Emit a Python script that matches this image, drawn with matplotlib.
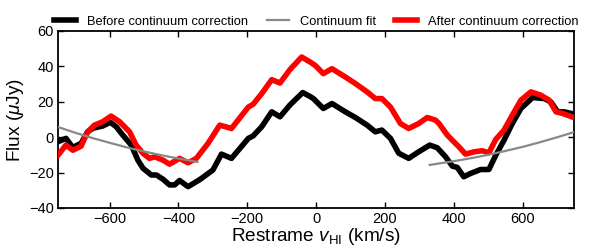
import matplotlib
matplotlib.use('Agg')
import matplotlib.pyplot as plt
import numpy as np

plt.rcParams['font.family'] = ['Liberation Sans', 'DejaVu Sans']
plt.rcParams['mathtext.fontset'] = 'custom'
plt.rcParams['mathtext.rm'] = 'Liberation Sans'
plt.rcParams['mathtext.it'] = 'Liberation Sans:italic'
plt.rcParams['mathtext.bf'] = 'Liberation Sans:bold'

# velocities (km/s) and fluxes (uJy)
v_before = [-750, -727, -707, -683, -664, -649, -620, -598, -581, -562, -537, -518,
            -503, -479, -464, -445, -426, -411, -397, -372, -338, -300, -275, -246,
            -197, -183, -158, -129, -105, -76, -39, -17, -8, 21, 46, 85, 114, 148,
            172, 191, 216, 240, 269, 298, 330, 352, 376, 396, 410, 429, 449, 478,
            502, 522, 546, 570, 595, 629, 663, 682, 702, 721, 750]
f_before = [-2.6, -0.7, -5.8, -3.5, 3.0, 5.0, 6.3, 8.4, 5.9, 1.2, -4.5, -13.0,
            -17.6, -21.4, -21.4, -23.8, -27.0, -27.0, -24.5, -28.0, -24.0, -18.6, -9.6, -12.0,
            -0.7, 0.7, 5.9, 14.3, 11.5, 18.2, 25.2, 22.9, 21.8, 16.2, 19.0, 14.3, 11.1, 6.8,
            3.0, 4.0, -0.7, -9.1, -12.0, -8.3, -4.5, -6.0, -11.1, -16.4, -17.1, -22.4, -20.5, -18.3,
            -18.3, -10.2, -1.7, 7.7, 16.2, 22.4, 21.8, 19.9, 14.3, 14.3, 13.0]

v_after = [-750, -727, -707, -683, -664, -644, -620, -596, -571, -542, -523, -503,
           -484, -469, -445, -426, -397, -372, -348, -314, -280, -246, -197, -183,
           -158, -129, -105, -76, -42, -17, -3, 21, 46, 85, 114, 148, 172, 191,
           216, 245, 269, 298, 323, 347, 357, 381, 400, 415, 434, 459, 483, 502,
           522, 546, 570, 595, 624, 653, 677, 697, 716, 750]
f_after = [-10.2, -4.5, -7.4, -5.1, 3.0, 6.8, 8.7, 11.9, 8.7, 3.0, -4.5, -9.2,
           -12.0, -11.1, -13.0, -15.3, -12.0, -14.5, -12.0, -3.5, 6.8, 4.9, 17.0, 18.6,
           24.6, 32.5, 30.6, 38.2, 45.3, 42.4, 40.6, 35.9, 38.7, 34.0, 30.3, 25.6, 21.8, 21.8,
           17.0, 7.7, 4.9, 7.7, 11.1, 9.6, 7.7, 1.2, -2.6, -5.5, -9.6, -8.3, -7.7, -8.9,
           -1.3, 4.0, 12.4, 20.9, 25.6, 23.7, 20.9, 14.3, 13.4, 11.0]

# continuum fit, only drawn over the line-free regions
v_cont_lo = [-750, -700, -650, -600, -550, -500, -450, -400, -345]
f_cont_lo = [5.7, 2.5, -0.5, -3.2, -5.8, -8.1, -10.2, -12.1, -14.0]
v_cont_hi = [330, 400, 450, 500, 550, 600, 650, 700, 750]
f_cont_hi = [-15.7, -13.6, -11.9, -10.0, -7.8, -5.5, -2.9, -0.1, 2.9]

fig = plt.figure(figsize=(5.92, 2.52), dpi=100)
ax = fig.add_axes([0.098, 0.175, 0.872, 0.702])

ax.plot(v_before, f_before, color='k', lw=4, solid_joinstyle='round',
        label='Before continuum correction', zorder=2)
ax.plot(v_cont_lo, f_cont_lo, color='#888888', lw=1.6, label='Continuum fit', zorder=4)
ax.plot(v_cont_hi, f_cont_hi, color='#888888', lw=1.6, zorder=4)
ax.plot(v_after, f_after, color='r', lw=4, solid_joinstyle='round',
        label='After continuum correction', zorder=3)

ax.set_xlim(-750, 750)
ax.set_ylim(-40, 60)
ax.set_xticks([-600, -400, -200, 0, 200, 400, 600])
ax.set_yticks([-40, -20, 0, 20, 40, 60])
ax.tick_params(direction='in', top=True, right=True, length=4, width=1,
               labelsize=10.5, pad=3)
for s in ax.spines.values():
    s.set_linewidth(1.3)

ax.set_xlabel(r'Restrame $v_{\rm HI}$ (km/s)', fontsize=13.7, labelpad=0)
ax.set_ylabel(r'Flux ($\mu$Jy)', fontsize=13.7, labelpad=2)

ax.legend(loc='lower center', bbox_to_anchor=(0.5, 1.005), ncol=3, frameon=False,
          fontsize=9.25, handlelength=1.7, handletextpad=0.85, columnspacing=1.5,
          borderaxespad=0, borderpad=0.2)

fig.savefig('out.png', dpi=100)
